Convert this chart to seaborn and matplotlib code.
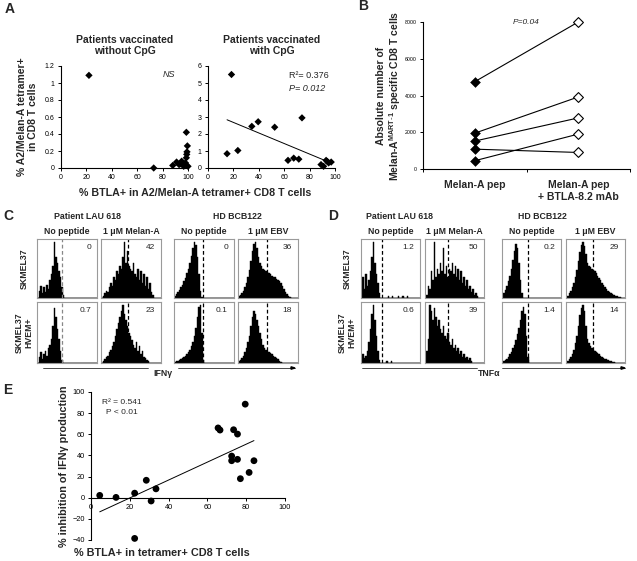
import numpy as np
import pandas as pd
import seaborn as sns
import matplotlib.pyplot as plt

# ---- panel A: % BTLA+ vs % tetramer+ ----
a_no_cpg_btla = [22, 73, 88, 91, 93, 95, 96.6, 98, 98.7, 99, 99.2, 99.5, 98.7, 100, 97, 94]
a_no_cpg_tet = [1.09, 0.0, 0.03, 0.07, 0.04, 0.08, 0.02, 0.06, 0.12, 0.16, 0.19, 0.26, 0.42, 0.02, 0.04, 0.05]
a_cpg_btla = [15, 18.5, 23.5, 34.5, 39.5, 52.5, 63, 67.5, 71.5, 74, 89, 91, 93, 94, 95, 97]
a_cpg_tet = [0.84, 5.5, 1.03, 2.45, 2.72, 2.4, 0.45, 0.58, 0.52, 2.95, 0.2, 0.1, 0.45, 0.38, 0.3, 0.35]

# ---- panel B: absolute numbers ----
b_conditions = ["Melan-A pep", "Melan-A pep\n+ BTLA-8.2 mAb"]
b_pep = [4750, 1950, 1520, 1080, 450]
b_pep_mab = [8000, 3920, 2780, 900, 1900]

# ---- panels C / D: histograms (relative counts per channel bin) ----
hist_headers = ["Patient LAU 618", "HD BCB122"]
hist_columns = ["No peptide", "1 \u03bcM Melan-A", "No peptide", "1 \u03bcM EBV"]
hist_rows = ["SKMEL37", "SKMEL37\nHVEM+"]

c_top_nopep_lau = [0, 12, 20, 8, 18, 10, 22, 15, 30, 40, 55, 95, 70, 60, 45, 35, 18, 5]
c_top_melan = [0, 3, 8, 12, 10, 18, 25, 20, 35, 30, 45, 40, 55, 50, 70, 95, 60, 80, 55, 50,
               45, 60, 40, 35, 50, 30, 45, 25, 40, 20, 35, 15, 25, 10, 5]
c_top_nopep_hd = [3, 6, 10, 14, 18, 22, 28, 34, 42, 50, 60, 72, 85, 95, 90, 70, 40, 12, 2]
c_top_ebv = [3, 5, 8, 12, 18, 25, 35, 48, 62, 80, 92, 95, 85, 70, 60, 55, 50, 48, 45, 44,
             42, 40, 38, 36, 35, 33, 30, 28, 25, 20, 15, 10, 6, 3, 1]
c_bot_nopep_lau = [0, 10, 18, 6, 15, 20, 12, 25, 30, 40, 60, 90, 75, 55, 40, 20, 5]
c_bot_melan = [0, 3, 6, 10, 12, 18, 22, 28, 35, 45, 55, 65, 75, 85, 95, 80, 70, 60, 50, 45,
               38, 30, 25, 35, 20, 28, 15, 20, 10, 8, 5, 3]
c_bot_nopep_hd = [2, 3, 4, 5, 6, 8, 10, 12, 15, 18, 22, 28, 35, 45, 58, 75, 92, 95, 50, 5]
c_bot_ebv = [3, 5, 8, 12, 18, 25, 35, 45, 60, 75, 85, 80, 70, 60, 50, 40, 30, 25, 22, 20,
             18, 16, 14, 12, 10, 8, 6, 4, 2]
c_gates = [16.4, 18, 19, 19.2]
c_pct = [["0", "42", "0", "36"], ["0.7", "23", "0.1", "18"]]

d_top_nopep_lau = [0, 35, 15, 40, 20, 30, 45, 70, 95, 60, 40, 25, 8, 0, 0, 0, 0, 0, 3, 0,
                   0, 3, 0, 0, 0, 3, 0, 0, 3, 0, 0, 3]
d_top_melan = [0, 5, 20, 15, 45, 30, 95, 35, 50, 40, 60, 45, 85, 40, 55, 35, 50, 45, 60, 40,
               55, 35, 50, 30, 45, 25, 35, 20, 30, 15, 20, 10, 15, 5, 8, 3]
d_top_nopep_hd = [3, 8, 14, 20, 28, 38, 50, 65, 80, 92, 85, 60, 30, 8]
d_top_ebv = [2, 4, 8, 12, 18, 25, 35, 48, 62, 78, 90, 95, 88, 75, 60, 55, 52, 50, 48, 45,
             42, 38, 34, 30, 26, 22, 18, 15, 12, 10, 8, 6, 5, 4, 3, 2, 1]
d_bot_nopep_lau = [0, 15, 8, 12, 20, 35, 55, 80, 95, 70, 45, 20, 5, 0, 0, 0, 0, 3, 0, 0, 3]
d_bot_melan = [0, 20, 40, 95, 85, 70, 90, 75, 60, 70, 55, 50, 60, 45, 40, 50, 35, 30, 40, 25,
               30, 20, 25, 15, 20, 10, 15, 8, 10, 5, 8, 3]
d_bot_nopep_hd = [2, 3, 5, 7, 10, 14, 18, 24, 30, 38, 48, 58, 70, 85, 92, 80, 45, 10]
d_bot_ebv = [2, 4, 6, 10, 15, 22, 32, 45, 60, 78, 90, 95, 85, 60, 40, 32, 28, 25, 22, 20,
             18, 16, 14, 12, 10, 8, 7, 6, 5, 4, 3, 2, 1]
d_gates = [14.2, 15.8, 17.4, 18.1]
d_pct = [["1.2", "50", "0.2", "29"], ["0.6", "39", "1.4", "14"]]

# ---- panel E: % BTLA+ vs % inhibition of IFNg ----
e_btla = [4.5, 12.9, 22.5, 28.5, 31, 33.5, 22.5, 65.5, 66.5, 73.5, 75.5, 72.5, 72.5, 75.5, 77, 79.5, 81.5, 84]
e_inhib = [2.2, 0.3, 4.3, 16.5, -3.1, 8.4, -38.5, 66, 64, 64.3, 60.2, 39.4, 35, 36.3, 18, 88.5, 23.9, 35]

N_BINS = 40
W, H = 637, 561

sns.set_theme(style="ticks")
plt.rcParams["font.family"] = ["Liberation Sans", "DejaVu Sans"]
plt.rcParams["axes.linewidth"] = 0.8
plt.rcParams["xtick.major.size"] = 2.5
plt.rcParams["ytick.major.size"] = 2.5
plt.rcParams["xtick.major.width"] = 0.7
plt.rcParams["ytick.major.width"] = 0.7
plt.rcParams["xtick.major.pad"] = 2
plt.rcParams["ytick.major.pad"] = 2

fig = plt.figure(figsize=(W / 100, H / 100), dpi=100)


def px_axes(l, t, r, b):
    return fig.add_axes([l / W, 1 - b / H, (r - l) / W, (b - t) / H])


def px_text(x, y, s, **kw):
    fig.text(x / W, 1 - y / H, s, **kw)


def excel_axes(ax, fs):
    sns.despine(ax=ax)
    ax.tick_params(labelsize=fs, colors="black")
    for sp in ax.spines.values():
        sp.set_color("black")


# ---------------- Panel A ----------------
df_a1 = pd.DataFrame({"btla": a_no_cpg_btla, "tet": a_no_cpg_tet})
df_a2 = pd.DataFrame({"btla": a_cpg_btla, "tet": a_cpg_tet})

ax = px_axes(61, 66, 188, 168)
sns.scatterplot(data=df_a1, x="btla", y="tet", marker="D", s=14, color="black",
                edgecolor="none", clip_on=False, ax=ax)
ax.set_xlim(0, 100)
ax.set_ylim(0, 1.2)
ax.set_xticks(range(0, 101, 20))
ax.set_yticks([0, 0.2, 0.4, 0.6, 0.8, 1, 1.2])
ax.set_yticklabels(["0", "0.2", "0.4", "0.6", "0.8", "1", "1.2"])
ax.set_xlabel("")
ax.set_ylabel("% A2/Melan-A tetramer+\nin CD8 T cells", fontsize=7.5, fontweight="bold",
              labelpad=5, linespacing=1.1)
ax.set_title("Patients vaccinated\nwithout CpG", fontsize=7.5, fontweight="bold", pad=9,
             linespacing=1.1)
ax.text(85, 1.1, "NS", fontsize=6.5, style="italic", ha="center", va="center")
excel_axes(ax, 5)

ax = px_axes(208, 66, 335, 168)
sns.regplot(data=df_a2, x="btla", y="tet", scatter=False, ci=None, truncate=True,
            line_kws={"color": "black", "lw": 0.7}, ax=ax)
sns.scatterplot(data=df_a2, x="btla", y="tet", marker="D", s=14, color="black",
                edgecolor="none", clip_on=False, ax=ax)
ax.set_xlim(0, 100)
ax.set_ylim(0, 6)
ax.set_xticks(range(0, 101, 20))
ax.set_yticks(range(0, 7))
ax.set_xlabel("")
ax.set_ylabel("")
ax.set_title("Patients vaccinated\nwith CpG", fontsize=7.5, fontweight="bold", pad=9,
             linespacing=1.1)
ax.text(64, 5.45, "R\u00b2= 0.376", fontsize=6.5, ha="left", va="center")
ax.text(64, 4.7, "P= 0.012", fontsize=6.5, style="italic", ha="left", va="center")
excel_axes(ax, 5)

px_text(195, 193, "% BTLA+ in A2/Melan-A tetramer+ CD8 T cells", fontsize=7.7,
        fontweight="bold", ha="center", va="center")

# ---------------- Panel B ----------------
df_b = pd.DataFrame({
    "donor": list(range(len(b_pep))) * 2,
    "cond": [b_conditions[0]] * len(b_pep) + [b_conditions[1]] * len(b_pep_mab),
    "cells": b_pep + b_pep_mab,
})
ax = px_axes(423, 22, 630, 169)
sns.lineplot(data=df_b, x="cond", y="cells", units="donor", estimator=None,
             color="black", lw=0.8, ax=ax)
sns.scatterplot(data=df_b[df_b["cond"] == b_conditions[0]], x="cond", y="cells",
                marker="D", s=25, color="black", edgecolor="black", zorder=3,
                clip_on=False, ax=ax)
sns.scatterplot(data=df_b[df_b["cond"] == b_conditions[1]], x="cond", y="cells",
                marker="D", s=25, facecolor="white", edgecolor="black", linewidth=0.8,
                zorder=3, clip_on=False, ax=ax)
ax.set_xlim(-0.5, 1.5)
ax.set_ylim(0, 8000)
ax.set_yticks(range(0, 8001, 2000))
ax.set_xticks([-0.5, 0.5, 1.5], minor=False)
ax.set_xticklabels([])
ax.set_xticks([0, 1], minor=True)
ax.set_xticklabels(b_conditions, minor=True, fontsize=7.5, fontweight="bold")
ax.tick_params(axis="x", which="minor", length=0, pad=8)
ax.set_xlabel("")
ax.set_ylabel("Absolute number of\nMelan-A$^{\\mathregular{MART\\text{-}1}}$ specific CD8 T cells",
              fontsize=7.5, fontweight="bold", labelpad=1, linespacing=1.1)
ax.text(0.5, 8000, "P=0.04", fontsize=6, style="italic", ha="center", va="center")
excel_axes(ax, 3.8)
ax.tick_params(axis="x", which="minor", labelsize=7.5)

# ---------------- Panels C and D ----------------


def hist_panel(l, t, r, b, heights, gate, pct, gate_color="black"):
    ax = px_axes(l, t, r, b)
    counts = list(heights) + [0] * (N_BINS - len(heights))
    df_h = pd.DataFrame({"channel": np.arange(N_BINS) + 0.5, "count": counts})
    sns.histplot(data=df_h, x="channel", weights="count", binwidth=1, binrange=(0, N_BINS),
                 element="step", fill=True, color="black", alpha=1, linewidth=0.3, ax=ax)
    ax.axvline(gate, color=gate_color, ls=(0, (3, 2)), lw=0.9)
    ax.set_xlim(0, N_BINS)
    ax.set_ylim(0, 100)
    ax.set_xticks([])
    ax.set_yticks([])
    ax.set_xlabel("")
    ax.set_ylabel("")
    for sp in ax.spines.values():
        sp.set_color("#9a9a9a")
        sp.set_linewidth(0.8)
    ax.text(0.9, 0.86, pct, transform=ax.transAxes, fontsize=6, ha="right", va="center")


def hist_block(xs, rows_y, data, gates, pcts, header_x, label_x, axis_x, marker_lbl, gate_colors):
    for i, (t, b) in enumerate(rows_y):
        for j, (l, r) in enumerate(xs):
            hist_panel(l, t, r, b, data[i][j], gates[j], pcts[i][j], gate_colors[j])
    for k, hx in enumerate(header_x):
        px_text(hx, 217, hist_headers[k], fontsize=6.3, fontweight="bold", ha="center", va="center")
    for j, (l, r) in enumerate(xs):
        px_text((l + r) / 2, 232, hist_columns[j], fontsize=6.3, fontweight="bold",
                ha="center", va="center")
    for i, (t, b) in enumerate(rows_y):
        px_text(label_x, (t + b) / 2, hist_rows[i], fontsize=6.3, fontweight="bold",
                ha="center", va="center", rotation=90, linespacing=1.0)
    x0, x1, x2, x3 = axis_x
    fig.add_artist(plt.Line2D([x0 / W, x1 / W], [1 - 368 / H] * 2, color="black", lw=0.5))
    fig.add_artist(plt.Line2D([x2 / W, x3 / W], [1 - 368 / H] * 2, color="black", lw=0.5))
    fig.add_artist(plt.Polygon([[x3 / W, 1 - 368 / H], [(x3 - 4) / W, 1 - 366.8 / H],
                                [(x3 - 4) / W, 1 - 369.2 / H]], closed=True, color="black",
                               transform=fig.transFigure))
    px_text((x1 + x2) / 2, 374, marker_lbl, fontsize=6.3, fontweight="bold",
            ha="center", va="center")


c_data = [[c_top_nopep_lau, c_top_melan, c_top_nopep_hd, c_top_ebv],
          [c_bot_nopep_lau, c_bot_melan, c_bot_nopep_hd, c_bot_ebv]]
d_data = [[d_top_nopep_lau, d_top_melan, d_top_nopep_hd, d_top_ebv],
          [d_bot_nopep_lau, d_bot_melan, d_bot_nopep_hd, d_bot_ebv]]
rows_y = [(239, 298), (302, 363)]

hist_block([(37, 97), (101, 161), (174, 234), (238, 298)], rows_y, c_data, c_gates, c_pct,
           [87, 237], 24, (43, 148, 178, 295), "IFN\u03b3",
           ["#888888", "black", "black", "black"])
hist_block([(361, 420), (425, 484), (502, 561), (566, 625)], rows_y, d_data, d_gates, d_pct,
           [400, 542], 347, (362, 477, 502, 625), "TNF\u03b1",
           ["black"] * 4)

# ---------------- Panel E ----------------
df_e = pd.DataFrame({"btla": e_btla, "inhib": e_inhib})
ax = px_axes(91, 392, 285, 540)
sns.regplot(data=df_e, x="btla", y="inhib", scatter=False, ci=None, truncate=True,
            line_kws={"color": "black", "lw": 0.7}, ax=ax)
sns.scatterplot(data=df_e, x="btla", y="inhib", s=24, color="black", edgecolor="none",
                clip_on=False, ax=ax)
ax.set_xlim(0, 100)
ax.set_ylim(-40, 100)
ax.set_xticks(range(0, 101, 20))
ax.set_yticks(range(-40, 101, 20))
ax.spines["bottom"].set_position(("data", 0))
ax.set_xlabel("")
ax.set_ylabel("% inhibition of IFN\u03b3 production", fontsize=7.8, fontweight="bold",
              labelpad=2)
ax.text(16, 90.5, "R\u00b2 = 0.541", fontsize=6, ha="center", va="center")
ax.text(16, 81, "P < 0.01", fontsize=6, ha="center", va="center")
excel_axes(ax, 5.3)
px_text(162, 553, "% BTLA+ in tetramer+ CD8 T cells", fontsize=7.8, fontweight="bold",
        ha="center", va="center")

# ---------------- panel letters ----------------
for lbl, (x, y) in {"A": (10, 9), "B": (363, 6), "C": (8, 216), "D": (333, 216),
                    "E": (8, 390)}.items():
    px_text(x, y, lbl, fontsize=10, fontweight="bold", ha="center", va="center")

fig.savefig("out.png", dpi=100)
